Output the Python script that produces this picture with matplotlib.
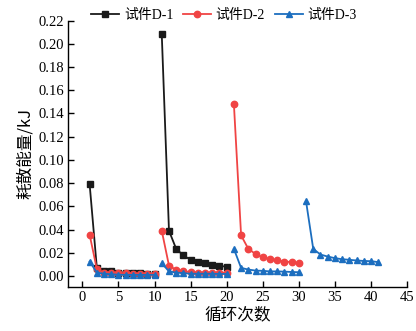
import numpy as np
import matplotlib
matplotlib.use("Agg")
import matplotlib.pyplot as plt

plt.rcParams['font.family'] = ['Liberation Serif', 'Noto Sans CJK SC', 'DejaVu Sans']
plt.rcParams['mathtext.fontset'] = 'stix'

# ---- data ----
d1_x = [list(range(1, 11)), list(range(11, 21))]
d1_y = [[0.079, 0.007, 0.004, 0.004, 0.003, 0.003, 0.003, 0.003, 0.002, 0.002],
        [0.208, 0.039, 0.0234, 0.0177, 0.014, 0.0125, 0.011, 0.0097, 0.0088, 0.008]]

d2_x = [list(range(1, 11)), list(range(11, 21)), list(range(21, 31))]
d2_y = [[0.0355, 0.006, 0.003, 0.003, 0.0025, 0.0025, 0.002, 0.002, 0.002, 0.002],
        [0.039, 0.009, 0.0053, 0.004, 0.0035, 0.003, 0.003, 0.003, 0.003, 0.003],
        [0.148, 0.035, 0.0234, 0.019, 0.016, 0.0148, 0.0134, 0.0125, 0.012, 0.0114]]

d3_x = [list(range(1, 11)), list(range(11, 21)), list(range(21, 31)), list(range(31, 42))]
d3_y = [[0.0125, 0.003, 0.002, 0.0015, 0.0012, 0.001, 0.001, 0.001, 0.001, 0.001],
        [0.011, 0.004, 0.003, 0.0025, 0.002, 0.002, 0.002, 0.002, 0.0018, 0.0018],
        [0.0234, 0.007, 0.0056, 0.0047, 0.0045, 0.004, 0.004, 0.0038, 0.0035, 0.0033],
        [0.0645, 0.0234, 0.0185, 0.0168, 0.0154, 0.0145, 0.014, 0.0134, 0.013, 0.0128, 0.012]]

labels = ['试件D-1', '试件D-2', '试件D-3']
colors = ['#1a1a1a', '#f04444', '#1c6ebf']
markers = ['s', 'o', '^']
msizes = [3.8, 4.6, 4.8]

xticks = [0, 5, 10, 15, 20, 25, 30, 35, 40, 45]
yticks = [0.00, 0.02, 0.04, 0.06, 0.08, 0.10, 0.12, 0.14, 0.16, 0.18, 0.20, 0.22]

fig = plt.figure(figsize=(4.16, 3.31), dpi=100)
ax = fig.add_axes([68/416, 1-286.5/331, (407-68)/416, (286.5-20.5)/331])

handles = []
for xs, ys, lab, c, m, ms in zip([d1_x, d2_x, d3_x], [d1_y, d2_y, d3_y], labels, colors, markers, msizes):
    for i, (sx, sy) in enumerate(zip(xs, ys)):
        h, = ax.plot(sx, sy, color=c, marker=m, markersize=ms, linewidth=1.3,
                     markeredgecolor=c, label=lab if i == 0 else None)
        if i == 0:
            handles.append(h)

ax.set_xlim(-2, 45)
ax.set_ylim(-0.009, 0.22)
ax.set_xticks(xticks)
ax.set_yticks(yticks)
ax.set_yticklabels([f'{v:.2f}' for v in yticks])
for s in ['top', 'right']:
    ax.spines[s].set_visible(False)
for s in ['left', 'bottom']:
    ax.spines[s].set_linewidth(1.0)
ax.tick_params(direction='in', length=4, width=1.0, labelsize=10.5, pad=3)

ax.set_xlabel('循环次数', fontsize=12, family=['Noto Sans CJK SC'], labelpad=2)
ax.set_ylabel('耗散能量/kJ', fontsize=12, family=['Noto Sans CJK SC', 'Liberation Serif'], labelpad=3)

fig.legend(handles=handles, labels=labels, loc='center', bbox_to_anchor=(224/416, 1-15/331),
           ncol=3, frameon=False, handlelength=2.0, handletextpad=0.35, columnspacing=0.7,
           prop={'family': ['Liberation Serif', 'Noto Sans CJK SC'], 'size': 10})

fig.savefig('out.png', dpi=100)
